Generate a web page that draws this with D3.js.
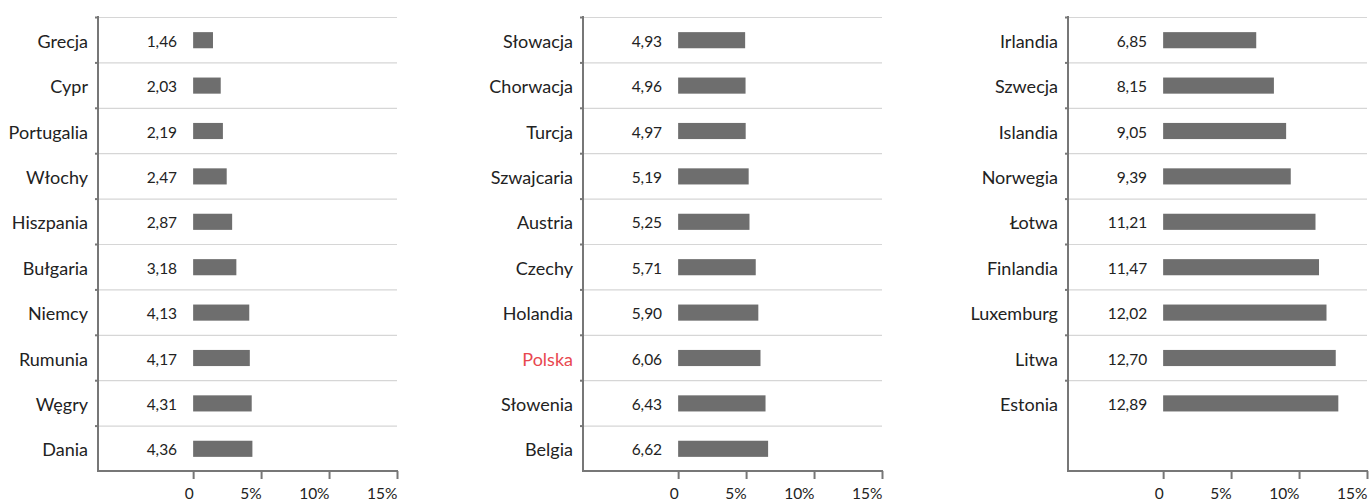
<!DOCTYPE html>
<html><head><meta charset="utf-8">
<script src="https://cdn.jsdelivr.net/npm/d3@7"></script>
<style>
body{margin:0;background:#fff;}
text{font-family:Lato,"Open Sans",sans-serif;}
</style></head>
<body><svg id="c" width="1370" height="503"></svg>
<script>
const countries1 = ["Grecja","Cypr","Portugalia","Włochy","Hiszpania","Bułgaria","Niemcy","Rumunia","Węgry","Dania"];
const values1 = [1.46,2.03,2.19,2.47,2.87,3.18,4.13,4.17,4.31,4.36];
const countries2 = ["Słowacja","Chorwacja","Turcja","Szwajcaria","Austria","Czechy","Holandia","Polska","Słowenia","Belgia"];
const values2 = [4.93,4.96,4.97,5.19,5.25,5.71,5.90,6.06,6.43,6.62];
const countries3 = ["Irlandia","Szwecja","Islandia","Norwegia","Łotwa","Finlandia","Luxemburg","Litwa","Estonia"];
const values3 = [6.85,8.15,9.05,9.39,11.21,11.47,12.02,12.70,12.89];
const xTicks = [0,5,10,15];
const xTickLabels = ["0","5%","10%","15%"];
const highlight = "Polska";

const svg = d3.select("#c");
const panels = [
  {cats:countries1, vals:values1, x0:98},
  {cats:countries2, vals:values2, x0:583},
  {cats:countries3, vals:values3, x0:1068}
];
const W = 299, yTop = 17, yBottom = 471, slots = 10;
const fmt = v => d3.format(".2f")(v).replace(".", ",");

panels.forEach(p => {
  const g = svg.append("g");
  const x = d3.scaleLinear().domain([-7,15]).range([p.x0, p.x0+W]);
  const y = d3.scaleBand().domain(d3.range(slots)).range([yTop,yBottom]).padding(0);
  const data = p.cats.map((c,i)=>({c, v:p.vals[i], i}));
  g.selectAll("line.grid").data(data).join("line")
    .attr("x1", x.range()[0]).attr("x2", x.range()[1])
    .attr("y1", d=>y(d.i)+0.5).attr("y2", d=>y(d.i)+0.5)
    .attr("stroke","#d6d6d6").attr("stroke-width",1.2);
  g.selectAll("line.yt").data(data).join("line")
    .attr("x1", x.range()[0]-3).attr("x2", x.range()[0])
    .attr("y1", d=>y(d.i)+0.5).attr("y2", d=>y(d.i)+0.5)
    .attr("stroke","#777").attr("stroke-width",2);
  const bh = y.bandwidth()*0.355;
  g.selectAll("rect").data(data).join("rect")
    .attr("x", x(0)).attr("width", d=>x(d.v)-x(0))
    .attr("y", d=>y(d.i)+y.bandwidth()/2-bh/2+0.5).attr("height", bh)
    .attr("fill","#6e6e6e");
  g.selectAll("text.val").data(data).join("text")
    .attr("x", x(0)-16).attr("y", d=>y(d.i)+y.bandwidth()/2+1)
    .attr("text-anchor","end").attr("dominant-baseline","central")
    .attr("font-size",15.5).attr("fill","#222").text(d=>fmt(d.v));
  g.selectAll("text.cat").data(data).join("text")
    .attr("x", x.range()[0]-10).attr("y", d=>y(d.i)+y.bandwidth()/2+1)
    .attr("text-anchor","end").attr("dominant-baseline","central")
    .attr("font-size",18).attr("fill", d=>d.c===highlight?"#e8474f":"#222").text(d=>d.c);
  g.append("line").attr("x1",x.range()[0]).attr("x2",x.range()[0])
    .attr("y1",yTop-1).attr("y2",yBottom).attr("stroke","#777").attr("stroke-width",2);
  const xa = g.append("g").attr("transform",`translate(0,${yBottom})`)
    .call(d3.axisBottom(x).tickValues(xTicks).tickFormat((d,i)=>xTickLabels[i]).tickSize(8).tickPadding(9));
  xa.select(".domain").attr("d", `M${x.range()[0]-1},0H${x.range()[1]+1}`).attr("stroke","#777").attr("stroke-width",2);
  xa.selectAll(".tick line").attr("stroke","#777").attr("stroke-width",2);
  xa.selectAll(".tick text").attr("font-size",15.5).attr("fill","#222").attr("font-family","Lato")
    .attr("text-anchor","end").attr("x",0);
});
</script></body></html>
